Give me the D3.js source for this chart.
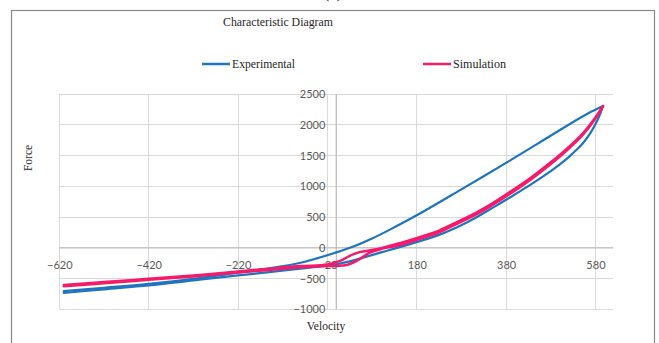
<!DOCTYPE html>
<html>
<head>
<meta charset="utf-8">
<script src="https://cdn.jsdelivr.net/npm/d3@7"></script>
<style>
  html, body { margin: 0; padding: 0; background: #fff; }
  svg { display: block; }
</style>
</head>
<body>
<script>
// Force–velocity characteristic: measured hysteresis loop vs. simulated loop
const xTicks = [-620, -420, -220, -20, 180, 380, 580];
const yTicks = [-1000, -500, 0, 500, 1000, 1500, 2000, 2500];

// Experimental loop, upper branch (velocity, force)
const expUpperV = [-610, -520, -420, -320, -220, -150, -75, 0, 40, 80, 120, 183, 280, 365, 450, 520, 565, 597];
const expUpperF = [-705, -650, -585, -505, -405, -335, -235, -75, 25, 150, 295, 540, 950, 1315, 1690, 2000, 2190, 2305];
// Experimental loop, lower branch
const expLowerV = [597, 592, 585, 570, 552, 530, 515, 480, 440, 407, 366, 343, 310, 269, 230, 183, 142, 100, 60, 30, 0, -30, -75, -150, -220, -320, -420, -520, -610];
const expLowerF = [2305, 2200, 2080, 1880, 1700, 1540, 1440, 1245, 1050, 900, 720, 620, 480, 330, 210, 100, 10, -75, -160, -222, -268, -298, -335, -395, -450, -530, -610, -675, -735];

// Simulation loop, outgoing branch
const simOutV = [-610, -520, -420, -320, -220, -150, -80, -20, 10, 30, 52, 90, 142, 183, 230, 269, 310, 343, 366, 407, 440, 480, 515, 552, 582, 597];
const simOutF = [-605, -555, -505, -450, -385, -340, -298, -272, -210, -130, -70, -25, 75, 164, 279, 414, 559, 694, 799, 994, 1164, 1389, 1604, 1862, 2140, 2305];
// Simulation loop, return branch
const simRetV = [597, 582, 552, 515, 480, 440, 407, 366, 343, 310, 269, 230, 183, 142, 100, 75, 52, 25, 0, -20, -80, -150, -220, -320, -420, -520, -610];
const simRetF = [2305, 2120, 1838, 1576, 1361, 1136, 966, 771, 666, 531, 386, 251, 136, 45, -20, -80, -185, -275, -295, -295, -318, -360, -400, -465, -520, -575, -625];

const W = 659, H = 343;
const svg = d3.select("body").append("svg").attr("width", W).attr("height", H);

const x = d3.scaleLinear().domain([-620, 620]).range([59.3, 613.3]);
const y = d3.scaleLinear().domain([-1000, 2500]).range([309.3, 94]);

// figure label above the frame, mostly clipped
svg.append("text").attr("x", 333).attr("y", -2).attr("text-anchor", "middle")
  .attr("font-family", "Liberation Serif").attr("font-size", 16).attr("fill", "#222").text("(c)");

// chart frame
svg.append("rect").attr("x", 11.5).attr("y", 10.5).attr("width", 643).attr("height", 345)
  .attr("fill", "none").attr("stroke", "#8a8a8a").attr("stroke-width", 1.2);

// gridlines
const grid = svg.append("g").attr("stroke", "#d9d9d9").attr("stroke-width", 1).attr("shape-rendering", "crispEdges");
grid.selectAll("line.v").data(xTicks).join("line")
  .attr("x1", d => x(d)).attr("x2", d => x(d)).attr("y1", y(2500)).attr("y2", y(-1000));
grid.selectAll("line.h").data(yTicks).join("line")
  .attr("x1", x(-620)).attr("x2", x(620)).attr("y1", d => y(d)).attr("y2", d => y(d));

// axis lines through the origin
const axisColor = "#bfbfbf";
svg.append("line").attr("x1", x(-620)).attr("x2", x(620)).attr("y1", y(0)).attr("y2", y(0))
  .attr("stroke", axisColor).attr("stroke-width", 1.3);
svg.append("line").attr("x1", x(0)).attr("x2", x(0)).attr("y1", y(2500)).attr("y2", y(-1000))
  .attr("stroke", axisColor).attr("stroke-width", 1.3);

// tick labels
const xAxis = svg.append("g").attr("transform", `translate(0,${y(0)})`)
  .call(d3.axisBottom(x).tickValues(xTicks).tickSize(0).tickPadding(13).tickFormat(d3.format("d")));
const yAxis = svg.append("g").attr("transform", `translate(${x(0)},0)`)
  .call(d3.axisLeft(y).tickValues(yTicks).tickSize(0).tickPadding(11).tickFormat(d3.format("d")));
[xAxis, yAxis].forEach(g => {
  g.select(".domain").remove();
  g.selectAll("text").attr("font-family", "Lato, 'Open Sans', sans-serif").attr("font-size", 11).attr("fill", "#595959");
});

// curves
const line = d3.line().x(d => x(d[0])).y(d => y(d[1])).curve(d3.curveCatmullRom.alpha(0.5));
const zip = (a, b) => a.map((v, i) => [v, b[i]]);
const curves = svg.append("g").attr("fill", "none").attr("stroke-linecap", "round").attr("stroke-linejoin", "round");
const blue = "#1f74bf", pink = "#f51a6a";
curves.append("path").attr("d", line(zip(expUpperV, expUpperF))).attr("stroke", blue).attr("stroke-width", 2.2);
curves.append("path").attr("d", line(zip(expLowerV, expLowerF))).attr("stroke", blue).attr("stroke-width", 2.2);
curves.append("path").attr("d", line(zip(simOutV, simOutF))).attr("stroke", pink).attr("stroke-width", 2.5);
curves.append("path").attr("d", line(zip(simRetV, simRetF))).attr("stroke", pink).attr("stroke-width", 2.5);

// title, legend and axis titles
const serif = "'Liberation Serif', 'DejaVu Serif', serif";
svg.append("text").attr("x", 278).attr("y", 26).attr("text-anchor", "middle")
  .attr("font-family", serif).attr("font-size", 11.5).attr("fill", "#262626")
  .attr("textLength", 110).attr("lengthAdjust", "spacingAndGlyphs").text("Characteristic Diagram");

const legend = [
  { name: "Experimental", color: blue, x0: 202, len: 63 },
  { name: "Simulation", color: pink, x0: 423, len: 53 }
];
const lg = svg.append("g").selectAll("g").data(legend).join("g");
lg.append("line").attr("x1", d => d.x0).attr("x2", d => d.x0 + 28).attr("y1", 64).attr("y2", 64)
  .attr("stroke", d => d.color).attr("stroke-width", 2.5);
lg.append("text").attr("x", d => d.x0 + 30).attr("y", 68)
  .attr("font-family", serif).attr("font-size", 11.5).attr("fill", "#262626")
  .attr("textLength", d => d.len).attr("lengthAdjust", "spacingAndGlyphs").text(d => d.name);

svg.append("text").attr("transform", "translate(32,158) rotate(-90)").attr("text-anchor", "middle")
  .attr("font-family", serif).attr("font-size", 11.5).attr("fill", "#262626").text("Force");
svg.append("text").attr("x", 326).attr("y", 330).attr("text-anchor", "middle")
  .attr("font-family", serif).attr("font-size", 11.5).attr("fill", "#262626").text("Velocity");
</script>
</body>
</html>
